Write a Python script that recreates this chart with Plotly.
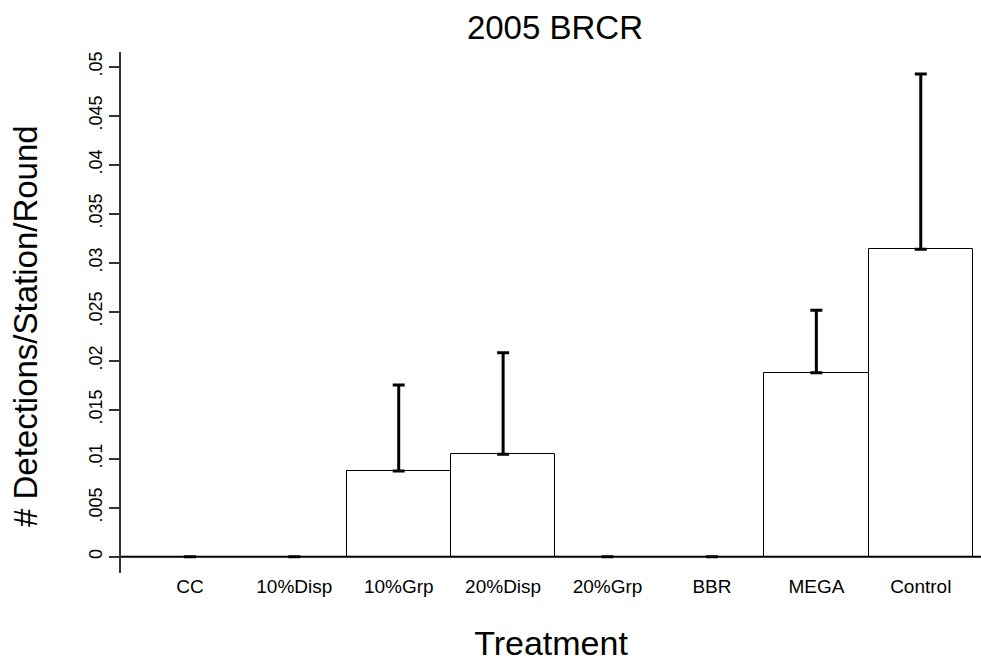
import plotly.graph_objects as go

categories = ["CC", "10%Disp", "10%Grp", "20%Disp", "20%Grp", "BBR", "MEGA", "Control"]
means = [0.0, 0.0, 0.00874, 0.01045, 0.0, 0.0, 0.01878, 0.03137]
upper = [0.0, 0.0, 0.01752, 0.02082, 0.0, 0.0, 0.02514, 0.04926]
errors = [u - m for u, m in zip(upper, means)]

ytickvals = [0, 0.005, 0.01, 0.015, 0.02, 0.025, 0.03, 0.035, 0.04, 0.045, 0.05]
yticktext = ["0", ".005", ".01", ".015", ".02", ".025", ".03", ".035", ".04", ".045", ".05"]

FONT = "Liberation Sans, Arial, sans-serif"

fig = go.Figure()
fig.add_trace(go.Bar(
    x=list(range(len(categories))),
    y=means,
    marker=dict(color="white", line=dict(color="black", width=1)),
    error_y=dict(type="data", symmetric=False, array=errors,
                 arrayminus=[0] * len(errors), color="black",
                 thickness=3, width=6),
    width=1.0,
))

fig.add_shape(type="line", xref="paper", yref="y", x0=0, x1=1, y0=0, y1=0,
              line=dict(color="black", width=2))

fig.add_annotation(text="# Detections/Station/Round", textangle=-90,
                   xref="paper", yref="paper", x=-0.1116, y=0.474,
                   xanchor="center", yanchor="middle", showarrow=False,
                   font=dict(size=33, family=FONT, color="black"))

fig.update_layout(
    width=981, height=663,
    margin=dict(l=121, r=0, t=52, b=90),
    paper_bgcolor="white", plot_bgcolor="white",
    showlegend=False,
    bargap=0,
    font=dict(family=FONT, color="black"),
    title=dict(text="2005 BRCR", x=0.5657, xanchor="center", y=0.958, yanchor="middle",
               font=dict(size=33, family=FONT, color="black")),
    xaxis=dict(
        range=[-0.66, 7.577],
        tickmode="array", tickvals=list(range(len(categories))), ticktext=categories,
        tickfont=dict(size=19, family=FONT, color="black"),
        showgrid=False, zeroline=False, showline=False, ticks="",
        title=dict(text="Treatment", font=dict(size=34, family=FONT, color="black"), standoff=35),
    ),
    yaxis=dict(
        range=[-0.00166, 0.0515],
        tickmode="array", tickvals=ytickvals, ticktext=yticktext,
        tickangle=-90,
        tickfont=dict(size=18, family=FONT, color="black"),
        ticks="outside", ticklen=10, tickwidth=1.5, tickcolor="#333",
        showgrid=False, zeroline=False,
        showline=True, linecolor="#333", linewidth=1.5,
    ),
)

fig.write_html("out.html")
